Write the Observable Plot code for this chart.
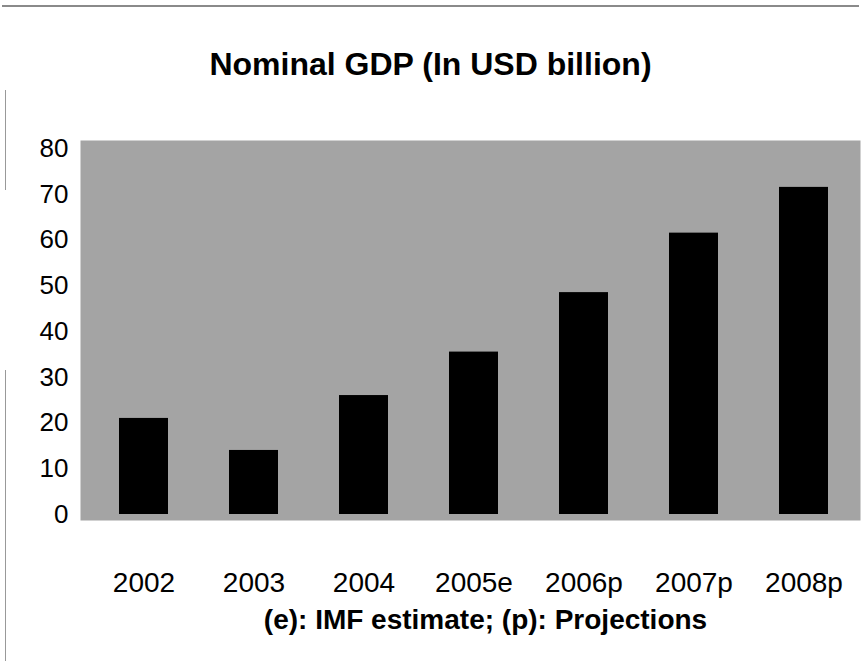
<!DOCTYPE html>
<html>
<head>
<meta charset="utf-8">
<script src="https://cdn.jsdelivr.net/npm/d3@7"></script>
<script src="https://cdn.jsdelivr.net/npm/@observablehq/plot@0.6"></script>
<style>
  html, body { margin: 0; padding: 0; background: #fff; }
  body { width: 861px; height: 661px; overflow: hidden; position: relative; font-family: "Liberation Sans", Arial, sans-serif; }
  .topline { position: absolute; top: 5px; left: 2px; width: 857px; border-top: 2px solid #8a8a8a; }
  .leftline1 { position: absolute; left: 5px; top: 90px; height: 100px; border-left: 1px solid #999; }
  .leftline2 { position: absolute; left: 5px; top: 370px; height: 291px; border-left: 1px solid #999; }
  #title { position: absolute; top: 46px; left: 0; width: 861px; text-align: center; font-weight: bold; font-size: 32px; color: #000; }
  #chart { position: absolute; top: 130px; left: 0; }
  #caption { position: absolute; top: 604px; left: 0; width: 861px; padding-left: 110px; box-sizing: border-box; text-align: center; font-weight: bold; font-size: 28px; color: #000; }
</style>
</head>
<body>
<div class="topline"></div>
<div class="leftline1"></div>
<div class="leftline2"></div>
<div id="title">Nominal GDP (In USD billion)</div>
<div id="chart"></div>
<div id="caption">(e): IMF estimate; (p): Projections</div>
<script>
const years = ["2002", "2003", "2004", "2005e", "2006p", "2007p", "2008p"];
const gdp = [21, 14, 26, 35.5, 48.5, 61.5, 71.5];
const yTicks = [0, 10, 20, 30, 40, 50, 60, 70, 80];

const data = years.map((y, i) => ({year: y, value: gdp[i]}));

const chart = Plot.plot({
  width: 861,
  height: 470,
  marginTop: 10,
  marginBottom: 80,
  marginLeft: 80,
  marginRight: 1,
  style: {fontFamily: "Liberation Sans, Arial, sans-serif", fontSize: "26px", color: "#000", background: "transparent"},
  x: {domain: years, paddingInner: 0.55, paddingOuter: 0.284, insetLeft: 8, label: null},
  y: {domain: [0, 80], insetTop: 8, insetBottom: 6, label: null},
  marks: [
    Plot.frame({fill: "#a4a4a4", stroke: null}),
    Plot.barY(data, {x: "year", y: "value", fill: "#000"}),
    Plot.axisY({ticks: yTicks, tickSize: 0, tickPadding: 12, fontSize: 26, label: null}),
    Plot.axisX({tickSize: 0, tickPadding: 52, fontSize: 28, label: null})
  ]
});
document.getElementById("chart").appendChild(chart);
</script>
</body>
</html>
